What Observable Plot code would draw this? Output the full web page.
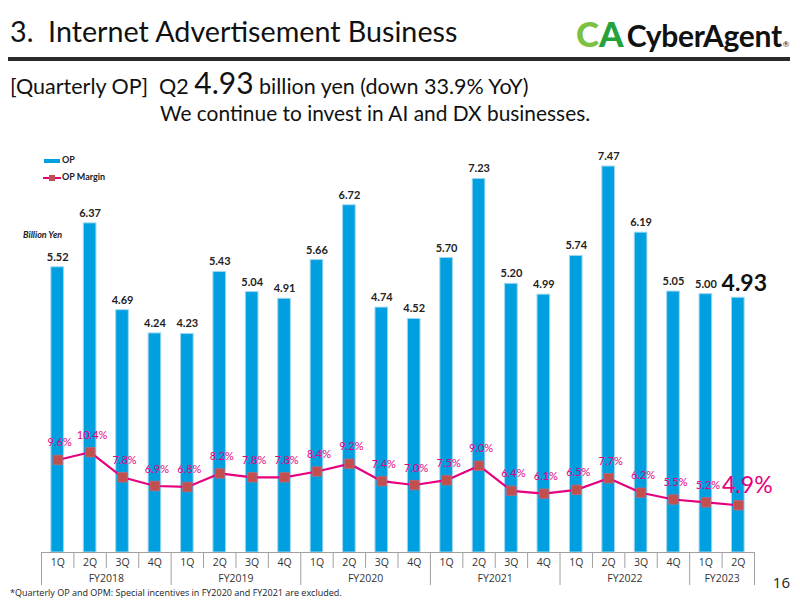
<!DOCTYPE html>
<html>
<head>
<meta charset="utf-8">
<script src="https://cdn.jsdelivr.net/npm/d3@7"></script>
<script src="https://cdn.jsdelivr.net/npm/@observablehq/plot@0.6"></script>
<style>
  html, body { margin: 0; padding: 0; background: #fff; }
  #page { position: relative; width: 800px; height: 600px; overflow: hidden; font-family: Lato, "Open Sans", sans-serif; color: #111; }
  #header { position: relative; height: 130px; }
  .title { position: absolute; left: 10px; top: 14px; font-size: 28.7px; white-space: pre; color: #111; }
  .rule { position: absolute; left: 8px; top: 57px; width: 782px; height: 4px; background: #2a2a2a; }
  .logo { position: absolute; left: 576px; top: 12px; white-space: nowrap; font-weight: 900; }
  .logo .c { color: #7cc242; font-size: 35px; }
  .logo .a { color: #25a33a; font-size: 35px; }
  .logo .name { color: #111; font-size: 30px; font-weight: 700; margin-left: 3px; letter-spacing: -0.3px; }
  .logo .reg { font-size: 8px; font-weight: 400; margin-left: 1px; }
  .sub1 { position: absolute; left: 10px; top: 64px; font-size: 21.5px; white-space: pre; }
  .sub1 .big { font-size: 30px; }
  .sub2 { position: absolute; left: 160px; top: 100px; font-size: 20.9px; white-space: pre; }
</style>
</head>
<body>
<div id="page">
  <div id="header">
    <div class="title">3.  Internet Advertisement Business</div>
    <div class="logo"><span class="c">C</span><span class="a">A</span><span class="name">CyberAgent</span><span class="reg">®</span></div>
    <div class="rule"></div>
    <div class="sub1">[Quarterly OP]  Q2 <span class="big">4.93</span> billion yen (down 33.9% YoY)</div>
    <div class="sub2">We continue to invest in AI and DX businesses.</div>
  </div>
  <div id="chart"></div>
</div>
<script>
// Quarterly operating profit (billion yen) and operating profit margin (%)
const fiscalYears = ["FY2018", "FY2019", "FY2020", "FY2021", "FY2022", "FY2023"];
const quartersPerYear = [4, 4, 4, 4, 4, 2];
const quarterLabels = ["1Q","2Q","3Q","4Q","1Q","2Q","3Q","4Q","1Q","2Q","3Q","4Q",
                       "1Q","2Q","3Q","4Q","1Q","2Q","3Q","4Q","1Q","2Q"];
const opValues = [5.52, 6.37, 4.69, 4.24, 4.23, 5.43, 5.04, 4.91, 5.66, 6.72, 4.74, 4.52,
                  5.70, 7.23, 5.20, 4.99, 5.74, 7.47, 6.19, 5.05, 5.00, 4.93];
const opMargins = [9.6, 10.4, 7.8, 6.9, 6.8, 8.2, 7.8, 7.8, 8.4, 9.2, 7.4, 7.0,
                   7.5, 9.0, 6.4, 6.1, 6.5, 7.7, 6.2, 5.5, 5.2, 4.9];

const BLUE = "#009fe0";
const PINK = "#e6007e";
const MARKER = "#c0504d";

// pixel geometry of the value axis
const baseY = 422;          // baseline inside the svg
const pxPerBillion = 51.67;
const pxPerPercent = 9.64;  // secondary (margin) axis shares the baseline
const marginToY = m => m * pxPerPercent / pxPerBillion;
const below = px => -px / pxPerBillion; // offsets under the baseline for the category table

const rows = opValues.map((op, i) => ({i, q: quarterLabels[i], op, m: opMargins[i]}));
const last = rows[rows.length - 1];
const earlier = rows.slice(0, -1);

// fiscal-year groups for the two-level category axis
let start = 0;
const groups = fiscalYears.map((fy, k) => {
  const g = {fy, start, end: start + quartersPerYear[k] - 1};
  start += quartersPerYear[k];
  return g;
});
const yearBounds = groups.map(g => g.start - 0.5).concat([rows.length - 0.5]);
const quarterBounds = rows.map(r => r.i - 0.5).filter(b => !yearBounds.includes(b));

const halfBar = 0.195;
const font = "'Open Sans', sans-serif";

const chart = Plot.plot({
  width: 800,
  height: 470,
  marginLeft: 41,
  marginRight: 46,
  marginTop: 0,
  marginBottom: 0,
  style: {background: "white", fontFamily: font},
  x: {type: "linear", domain: [-0.5, rows.length - 0.5], axis: null},
  y: {domain: [0, 8], range: [baseY, baseY - 8 * pxPerBillion], axis: null},
  marks: [
    Plot.rectY(rows, {x1: d => d.i - halfBar, x2: d => d.i + halfBar, y1: 0, y2: "op",
      fill: BLUE, stroke: "#9fd8f2", strokeWidth: 1}),
    Plot.text(earlier, {x: "i", y: "op", text: d => d.op.toFixed(2), dy: -10,
      fontSize: 11, fontWeight: 700, fill: "#222", fontFamily: "Lato, sans-serif"}),
    Plot.text([last], {x: "i", y: "op", text: d => d.op.toFixed(2), dx: 6, dy: -14,
      fontSize: 23, fontWeight: 700, fill: "#111", fontFamily: "Lato, sans-serif"}),
    Plot.line(rows, {x: "i", y: d => marginToY(d.m), stroke: PINK, strokeWidth: 2.2}),
    Plot.dot(rows, {x: "i", y: d => marginToY(d.m), symbol: "square", r: 5.4,
      fill: MARKER, stroke: "#d46a7a", strokeWidth: 0.6}),
    Plot.text(earlier, {x: "i", y: d => marginToY(d.m), text: d => d.m.toFixed(1) + "%",
      dx: 2, dy: -17, fontSize: 11, fill: PINK, fontFamily: "Lato, sans-serif"}),
    Plot.text([last], {x: "i", y: d => marginToY(d.m), text: d => d.m.toFixed(1) + "%",
      dx: 9, dy: -20, fontSize: 23, fill: PINK, fontFamily: "Lato, sans-serif"}),
    // category table below the bars
    Plot.ruleY([0], {stroke: "#a0a0a0", strokeWidth: 1}),
    Plot.ruleX(quarterBounds, {y1: 0, y2: below(16), stroke: "#a0a0a0", strokeWidth: 1}),
    Plot.ruleX(yearBounds, {y1: 0, y2: below(33), stroke: "#a0a0a0", strokeWidth: 1}),
    Plot.text(rows, {x: "i", y: below(10), text: "q", fontSize: 10.5, fill: "#333"}),
    Plot.text(groups, {x: g => (g.start + g.end) / 2, y: below(26), text: "fy", fontSize: 10.5, fill: "#333"})
  ]
});

document.getElementById("chart").appendChild(chart);

// legend, unit note, footnote and page number
const svg = d3.select(chart);
const legend = svg.append("g").attr("font-family", "Lato, sans-serif").attr("font-size", 9)
  .attr("font-weight", 700).attr("text-anchor", "start");
legend.append("rect").attr("x", 44).attr("y", 29).attr("width", 16).attr("height", 4).attr("fill", BLUE);
legend.append("text").attr("x", 62).attr("y", 31).attr("dominant-baseline", "middle").attr("fill", "#222").text("OP");
legend.append("line").attr("x1", 43).attr("x2", 61).attr("y1", 48).attr("y2", 48).attr("stroke", PINK).attr("stroke-width", 2);
legend.append("rect").attr("x", 49).attr("y", 45).attr("width", 6).attr("height", 6).attr("fill", MARKER);
legend.append("text").attr("x", 62).attr("y", 48).attr("dominant-baseline", "middle").attr("fill", "#222").text("OP Margin");

svg.append("text").attr("x", 23).attr("y", 106).attr("dominant-baseline", "middle").attr("text-anchor", "start")
  .attr("font-family", "Lato, sans-serif").attr("font-size", 9).attr("font-weight", 700)
  .attr("font-style", "italic").attr("fill", "#222").text("Billion Yen");

svg.append("text").attr("x", 10).attr("y", 466).attr("text-anchor", "start")
  .attr("font-family", font).attr("font-size", 9).attr("fill", "#222")
  .text("*Quarterly OP and OPM: Special incentives in FY2020 and FY2021 are excluded.");

svg.append("text").attr("x", 790).attr("y", 458).attr("text-anchor", "end")
  .attr("font-family", font).attr("font-size", 15).attr("fill", "#222").text("16");
</script>
</body>
</html>
